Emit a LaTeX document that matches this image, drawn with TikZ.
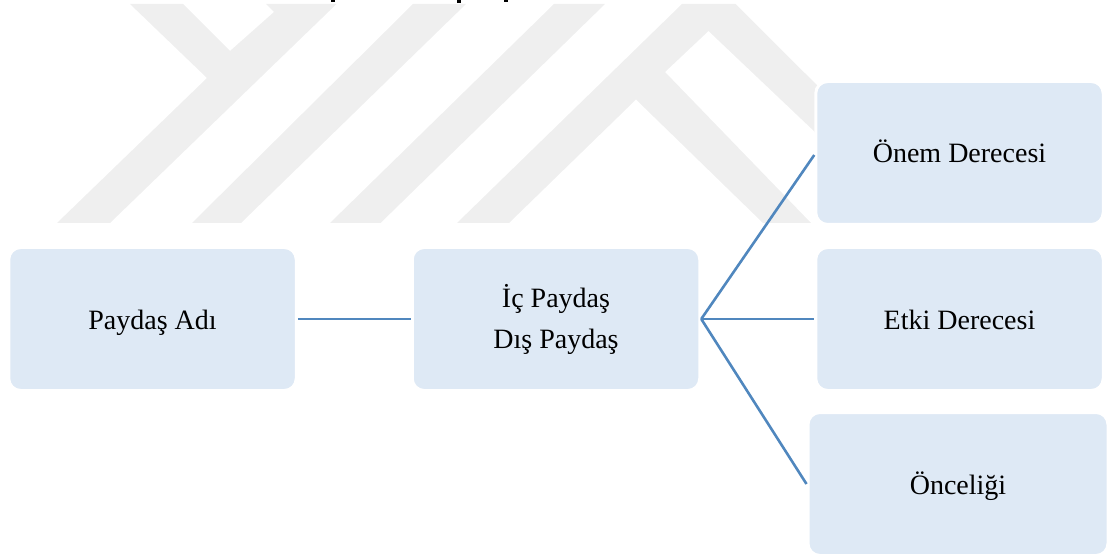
\documentclass[tikz,border=0pt]{standalone}
\usepackage{fontspec}
\setmainfont{Liberation Serif}
\usetikzlibrary{positioning}
\definecolor{boxblue}{RGB}{222,233,245}
\definecolor{linkblue}{RGB}{80,135,190}
\definecolor{wmgray}{RGB}{239,239,239}

\begin{document}
\begin{tikzpicture}[
    x=1pt, y=-1pt,
    node distance=113pt,
    % node styles
    box/.style = {
      draw=white,
      line width=3pt,
      fill=boxblue,
      rounded corners=12pt,
      minimum width=287.5pt,
      minimum height=143pt,
      align=center,
      font=\fontsize{28}{41}\selectfont,
      text=black
    },
    oneline/.style = {text height=25pt, text depth=5pt},
    % arrow and background styles
    link/.style = {line width=2.6pt, draw=linkblue},
    wmark/.style = {fill=wmgray, draw=none}
  ]
  \useasboundingbox (0,0) rectangle (1109,556);

  % --- Background marks
  \fill[wmark] (130,4) -- (183,4) -- (230,51) -- (274,12) -- (266,4) -- (336.5,4)
    -- (110,223) -- (57,223) -- (207,78) -- cycle;
  \fill[wmark] (413,4) -- (466,4) -- (241,223) -- (192,223) -- cycle;
  \fill[wmark] (554,4) -- (605,4) -- (380.5,223) -- (330,223) -- cycle;
  \fill[wmark] (682,4) -- (735.5,4) -- (880,148) -- (816,133) -- (708.5,31) -- (665,72)
    -- (811,223) -- (763,223) -- (636,99.5) -- (509,223) -- (457,223) -- cycle;

  % Cut-off line of text at the top edge
  \fill (331,0) rectangle (335,2.5);
  \fill (457,0) rectangle (461,3.5);
  \fill (504,0) rectangle (508,2.5);

  % --- Nodes
  \node[box, oneline] (affil) at (152.5,319) {Paydaş Adı};
  \node[box, right=of affil] (ictype) {İç Paydaş\\Dış Paydaş};
  \node[box, oneline, right=of ictype] (impact) {Etki Derecesi};
  \node[box, oneline, above=20pt of impact] (weight) {Önem Derecesi};
  \node[box, oneline, below=19pt of impact, xshift=-1.5pt, minimum width=300pt] (prior) {Önceliği};

  % --- Links
  \draw[link] (affil) -- (ictype);
  \draw[link] (ictype.east) -- ([yshift=-2pt]weight.west);
  \draw[link] (ictype.east) -- (impact.west);
  \draw[link] (ictype.east) -- (prior.west);
\end{tikzpicture}
\end{document}
